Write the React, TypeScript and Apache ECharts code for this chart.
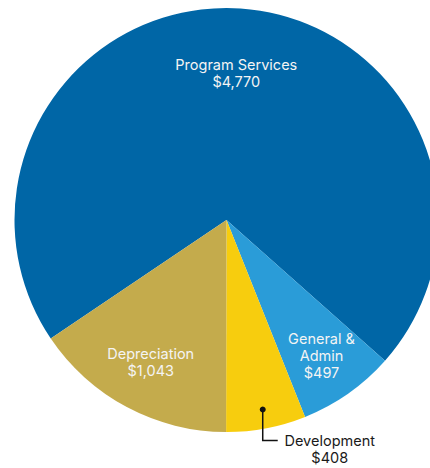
import React, { useEffect, useRef } from "react";
import * as echarts from "echarts";

const categories = ["Program Services", "General & Admin", "Development", "Depreciation"];
const labelNames = ["Program Services", "General &\nAdmin", "Development", "Depreciation"];
const values = [4770, 497, 408, 1043];
const colors = ["#0066a6", "#2a9cd8", "#f7cd0e", "#c4ab4c"];

const CX = 226.5;
const CY = 220;
const R = 212;
const START = 214;
const labelRatio = [0.695, 0.78, 0.91, 0.76];

export default function App() {
  const ref = useRef<HTMLDivElement>(null);
  useEffect(() => {
    if (!ref.current) return;
    const chart = echarts.init(ref.current, undefined, { renderer: "svg" });
    const total = values.reduce((a, b) => a + b, 0);
    const mids: number[] = [];
    let cum = 0;
    values.forEach((v) => {
      mids.push(START - ((cum + v / 2) / total) * 360);
      cum += v;
    });
    const pt = (i: number) => {
      const a = (mids[i] * Math.PI) / 180;
      return [CX + labelRatio[i] * R * Math.cos(a), CY - labelRatio[i] * R * Math.sin(a)];
    };
    const devIdx = 2;
    const dot = pt(devIdx);
    const bend = [dot[0], dot[1] + 31];
    const fmt = (v: number) => "$" + v.toLocaleString("en-US");
    chart.setOption({
      animation: false,
      graphic: [
        {
          type: "polyline",
          shape: { points: [dot, bend, [bend[0] + 15, bend[1]]] },
          style: { stroke: "#111", lineWidth: 1.5, fill: null },
          z: 100,
        },
        {
          type: "circle",
          shape: { cx: dot[0], cy: dot[1], r: 3 },
          style: { fill: "#111" },
          z: 101,
        },
      ],
      series: [
        {
          type: "pie",
          center: [CX, CY],
          radius: [0, R],
          startAngle: START,
          clockwise: true,
          silent: true,
          avoidLabelOverlap: false,
          data: categories.map((name, i) => ({
            name,
            value: values[i],
            itemStyle: { color: colors[i] },
            label: {
              show: true,
              position: i === devIdx ? "outside" : "inside",
              formatter: labelNames[i] + "\n" + fmt(values[i]),
              color: i === devIdx ? "#1a1a1a" : "#f4f4f4",
              fontFamily: "Inter, Roboto, sans-serif",
              fontSize: 14.5,
              lineHeight: 17,
              align: "center",
            },
            labelLine: { show: false },
          })),
          labelLayout: (params: any) => {
            const i = params.dataIndex;
            if (i === devIdx) {
              return {
                x: bend[0] + 67,
                y: bend[1] + 9,
                align: "center",
                verticalAlign: "middle",
              };
            }
            const p = pt(i);
            return { x: p[0], y: p[1], align: "center", verticalAlign: "middle" };
          },
        },
      ],
    });
    return () => chart.dispose();
  }, []);
  return (
    <div
      ref={ref}
      style={{ position: "absolute", left: 0, top: 0, width: 430, height: 468 }}
    />
  );
}
